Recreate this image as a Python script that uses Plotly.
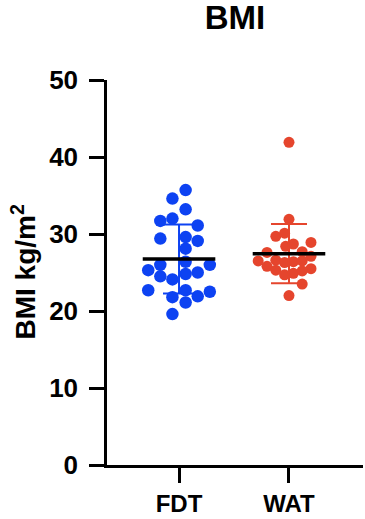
import numpy as np
import plotly.graph_objects as go

groups = ["FDT", "WAT"]
colors = ["#0D42F2", "#E5452D"]

fdt_bmi = [35.7, 34.6, 33.2, 31.7, 32.0, 31.1, 29.4, 29.6, 29.1, 28.1,
           25.3, 26.0, 26.4, 26.0, 24.5, 24.1, 24.8, 25.0,
           22.7, 21.8, 22.7, 21.9, 22.5, 21.1, 19.6]
fdt_offset = [0.06, -0.06, 0.06, -0.17, -0.06, 0.17, -0.17, 0.06, 0.17, 0.06,
              -0.28, -0.17, 0.06, 0.28, -0.17, -0.06, 0.06, 0.17,
              -0.28, -0.06, 0.06, 0.17, 0.28, 0.06, -0.06]

wat_bmi = [41.9, 31.9, 29.7, 30.1, 28.4, 28.7, 28.9, 27.6, 27.7, 27.1,
           26.5, 26.6, 26.3, 26.4, 26.5, 25.8, 25.3, 25.5, 24.7, 24.9,
           25.2, 23.5, 22.0]
wat_offset = [0.0, 0.0, -0.12, -0.04, -0.03, 0.04, 0.2, -0.2, 0.12, 0.2,
              -0.28, -0.12, -0.04, 0.04, 0.12, -0.2, -0.12, 0.2, -0.04, 0.04,
              0.12, 0.12, 0.0]

data = [fdt_bmi, wat_bmi]
offsets = [fdt_offset, wat_offset]
marker_sizes = [12.5, 11]
cap_widths = [16, 18]

fig = go.Figure()
for i, (vals, offs) in enumerate(zip(data, offsets)):
    pos = i + 1
    fig.add_trace(go.Scatter(
        x=[pos + o for o in offs], y=vals, mode="markers",
        marker=dict(color=colors[i], size=marker_sizes[i], line=dict(width=0)),
        showlegend=False, hoverinfo="y"))
for i, vals in enumerate(data):
    pos = i + 1
    m = float(np.mean(vals))
    sd = float(np.std(vals, ddof=1))
    fig.add_trace(go.Scatter(
        x=[pos], y=[m], mode="markers", marker=dict(size=0.1, color=colors[i]),
        error_y=dict(type="data", array=[sd], visible=True, color=colors[i],
                     thickness=2, width=cap_widths[i]),
        showlegend=False, hoverinfo="skip"))
    fig.add_trace(go.Scatter(
        x=[pos - 0.33, pos + 0.33], y=[m, m], mode="lines",
        line=dict(color="black", width=3.5), showlegend=False, hoverinfo="skip"))

font_family = "Liberation Sans, Arial, Helvetica, sans-serif"
fig.update_layout(
    width=365, height=519,
    margin=dict(l=107, r=2, t=80, b=54, autoexpand=False),
    plot_bgcolor="white", paper_bgcolor="white",
    font=dict(family=font_family, color="black", size=26, weight="bold"),
    title=dict(text="BMI", xref="paper", x=0.5, xanchor="center",
               y=0.967, yanchor="middle",
               font=dict(size=33, weight="bold", family=font_family)),
    xaxis=dict(range=[0.345, 2.673], tickvals=[1, 2], ticktext=groups,
               showgrid=False, zeroline=False, showline=True, linecolor="black",
               linewidth=2.5, ticks="outside", ticklen=15, tickwidth=2.5,
               tickcolor="black", ticklabelstandoff=0, automargin=False,
               tickfont=dict(size=24, weight="bold")),
    yaxis=dict(range=[0, 50], tickvals=[0, 10, 20, 30, 40, 50],
               showgrid=False, zeroline=False, showline=True, linecolor="black",
               linewidth=2.5, ticks="outside", ticklen=15, tickwidth=2.5,
               tickcolor="black", ticklabelstandoff=6, automargin=False,
               tickfont=dict(size=26, weight="bold")),
    annotations=[dict(text="BMI kg/m<sup>2</sup>", textangle=-90,
                      xref="paper", yref="paper", x=-0.328, y=0.5,
                      xanchor="center", yanchor="middle", showarrow=False,
                      font=dict(size=28, weight="bold", family=font_family))],
)
fig.write_html("out.html")
